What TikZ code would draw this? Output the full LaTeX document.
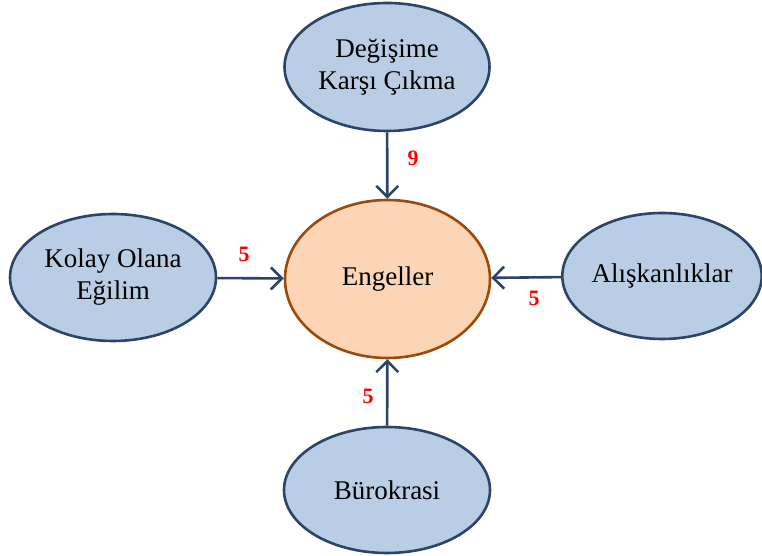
\documentclass[tikz,border=0pt]{standalone}
\usepackage{fontspec}
\setmainfont{Liberation Serif}
\usetikzlibrary{shapes.geometric,arrows.meta}
\definecolor{navy}{HTML}{2B4468}
\definecolor{bluefill}{HTML}{B9CDE5}
\definecolor{peach}{HTML}{FBD5B5}
\definecolor{brownline}{HTML}{9A4A0C}
\tikzset{
  bubble/.style={ellipse, draw=navy, line width=2.6pt, fill=bluefill, inner sep=0pt,
    align=center, font=\fontsize{27}{32}\selectfont},
  core/.style={ellipse, draw=brownline, line width=2.6pt, fill=peach, inner sep=0pt,
    align=center, font=\fontsize{27}{32}\selectfont},
  arr/.style={draw=navy, line width=2.6pt, -{Straight Barb[length=11pt,width=22pt,line width=2.6pt]}},
  lbl/.style={text=red, font=\fontsize{22}{26}\selectfont\bfseries, inner sep=0pt}
}
\begin{document}
\begin{tikzpicture}[x=1pt,y=1pt]
\useasboundingbox (0,0) rectangle (762,556);
\node[core, minimum width=205pt, minimum height=158pt] (eng) at (387.5,277) {Engeller};
\node[bubble, minimum width=205pt, minimum height=128pt] (top) at (387,489) {Değişime\\Karşı Çıkma};
\node[bubble, minimum width=206pt, minimum height=127pt] (left) at (113,278.5) {Kolay Olana\\Eğilim};
\node[bubble, minimum width=197pt, minimum height=126pt] (right) at (662,280) {Alışkanlıklar};
\node[bubble, minimum width=206pt, minimum height=126pt] (bot) at (387,66) {Bürokrasi};
\draw[arr] (top) -- (eng);
\draw[arr] (left) -- (eng);
\draw[arr] (right) -- (eng);
\draw[arr] (bot) -- (eng);
\node[lbl] (l9) at (413,398) {9};
\node[lbl] (l5a) at (244,302) {5};
\node[lbl] (l5b) at (534,258) {5};
\node[lbl] (l5c) at (368,160) {5};
\end{tikzpicture}
\end{document}
